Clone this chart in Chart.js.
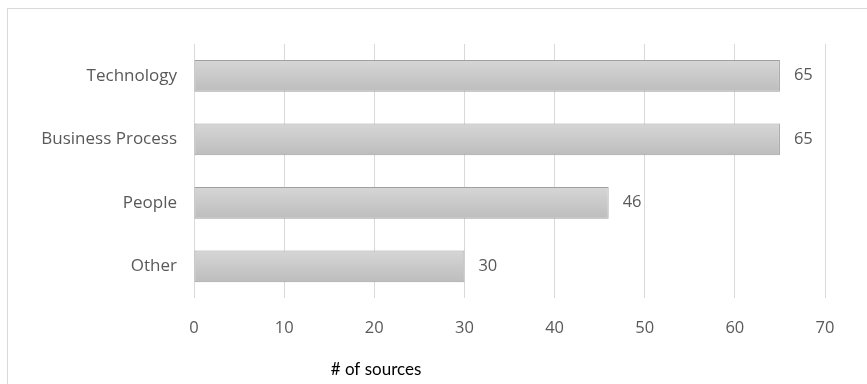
<!DOCTYPE html>
<html>
<head>
<meta charset="utf-8">
<script src="https://cdn.jsdelivr.net/npm/chart.js@4"></script>
<style>
  html, body { margin: 0; padding: 0; background: #ffffff; }
  #wrap { position: relative; width: 867px; height: 384px; overflow: hidden; }
  #frame {
    position: absolute; left: 7px; top: 8px; width: 900px; height: 420px;
    border-left: 1px solid #d9d9d9; border-top: 1px solid #d9d9d9;
    pointer-events: none;
  }
  canvas { position: absolute; left: 0; top: 0; }
</style>
</head>
<body>
<div id="wrap">
  <canvas id="chart" width="867" height="384"></canvas>
  <div id="frame"></div>
</div>
<script>
const categories = ['Technology', 'Business Process', 'People', 'Other'];
const sourceCounts = [65, 65, 46, 30];
const xTicks = [0, 10, 20, 30, 40, 50, 60, 70];
const axisTitle = '# of sources';

const FONT = "'Open Sans', Lato, sans-serif";
const TITLE_FONT = "Lato, 'Open Sans', sans-serif";
const LABEL_GREY = '#595959';

// Vertical grey gradient per bar, built from the bar's own band on the y scale
function barFill(ctx) {
  const chart = ctx.chart;
  const y = chart.scales.y;
  if (!chart.chartArea || !y || ctx.dataIndex === undefined) return '#c8c8c8';
  const c = y.getPixelForValue(ctx.dataIndex);
  const half = Math.abs(y.getPixelForValue(1) - y.getPixelForValue(0)) / 4;
  if (!isFinite(c) || !isFinite(half) || half === 0) return '#c8c8c8';
  const g = chart.ctx.createLinearGradient(0, c - half, 0, c + half);
  g.addColorStop(0, '#d6d6d6');
  g.addColorStop(1, '#bdbdbd');
  return g;
}

// Value labels at the end of each bar, plus the axis title under the ticks
const annotate = {
  id: 'annotate',
  afterDatasetsDraw(chart) {
    const ctx = chart.ctx;
    const meta = chart.getDatasetMeta(0);
    ctx.save();
    ctx.font = '16.5px ' + FONT;
    ctx.fillStyle = LABEL_GREY;
    ctx.textAlign = 'left';
    ctx.textBaseline = 'middle';
    meta.data.forEach((bar, i) => {
      ctx.fillText(String(sourceCounts[i]), bar.x + 14, bar.y);
    });
    ctx.font = '17px ' + TITLE_FONT;
    ctx.fillStyle = '#000000';
    ctx.textAlign = 'center';
    ctx.fillText(axisTitle, 376, 370);
    ctx.restore();
  }
};

new Chart(document.getElementById('chart'), {
  type: 'bar',
  data: {
    labels: categories,
    datasets: [{
      data: sourceCounts,
      backgroundColor: barFill,
      borderColor: '#a0a0a0',
      borderWidth: 1,
      borderSkipped: false,
      barPercentage: 0.5,
      categoryPercentage: 1.0
    }]
  },
  options: {
    indexAxis: 'y',
    responsive: false,
    animation: false,
    devicePixelRatio: 1,
    layout: { padding: { top: 44, right: 42, left: 0, bottom: 0 } },
    plugins: { legend: { display: false }, tooltip: { enabled: false } },
    scales: {
      x: {
        min: 0, max: 70,
        afterBuildTicks(scale) { scale.ticks = xTicks.map(v => ({ value: v })); },
        afterFit(scale) { scale.height = 86; },
        border: { display: false },
        grid: { color: '#d9d9d9', drawTicks: false, lineWidth: 1 },
        ticks: { color: LABEL_GREY, font: { family: FONT, size: 16.5 }, padding: 20 }
      },
      y: {
        afterFit(scale) { scale.width = 194; },
        border: { display: false },
        grid: { display: false, drawTicks: false },
        ticks: { color: LABEL_GREY, font: { family: FONT, size: 17 }, padding: 17 }
      }
    }
  },
  plugins: [annotate]
});
</script>
</body>
</html>
